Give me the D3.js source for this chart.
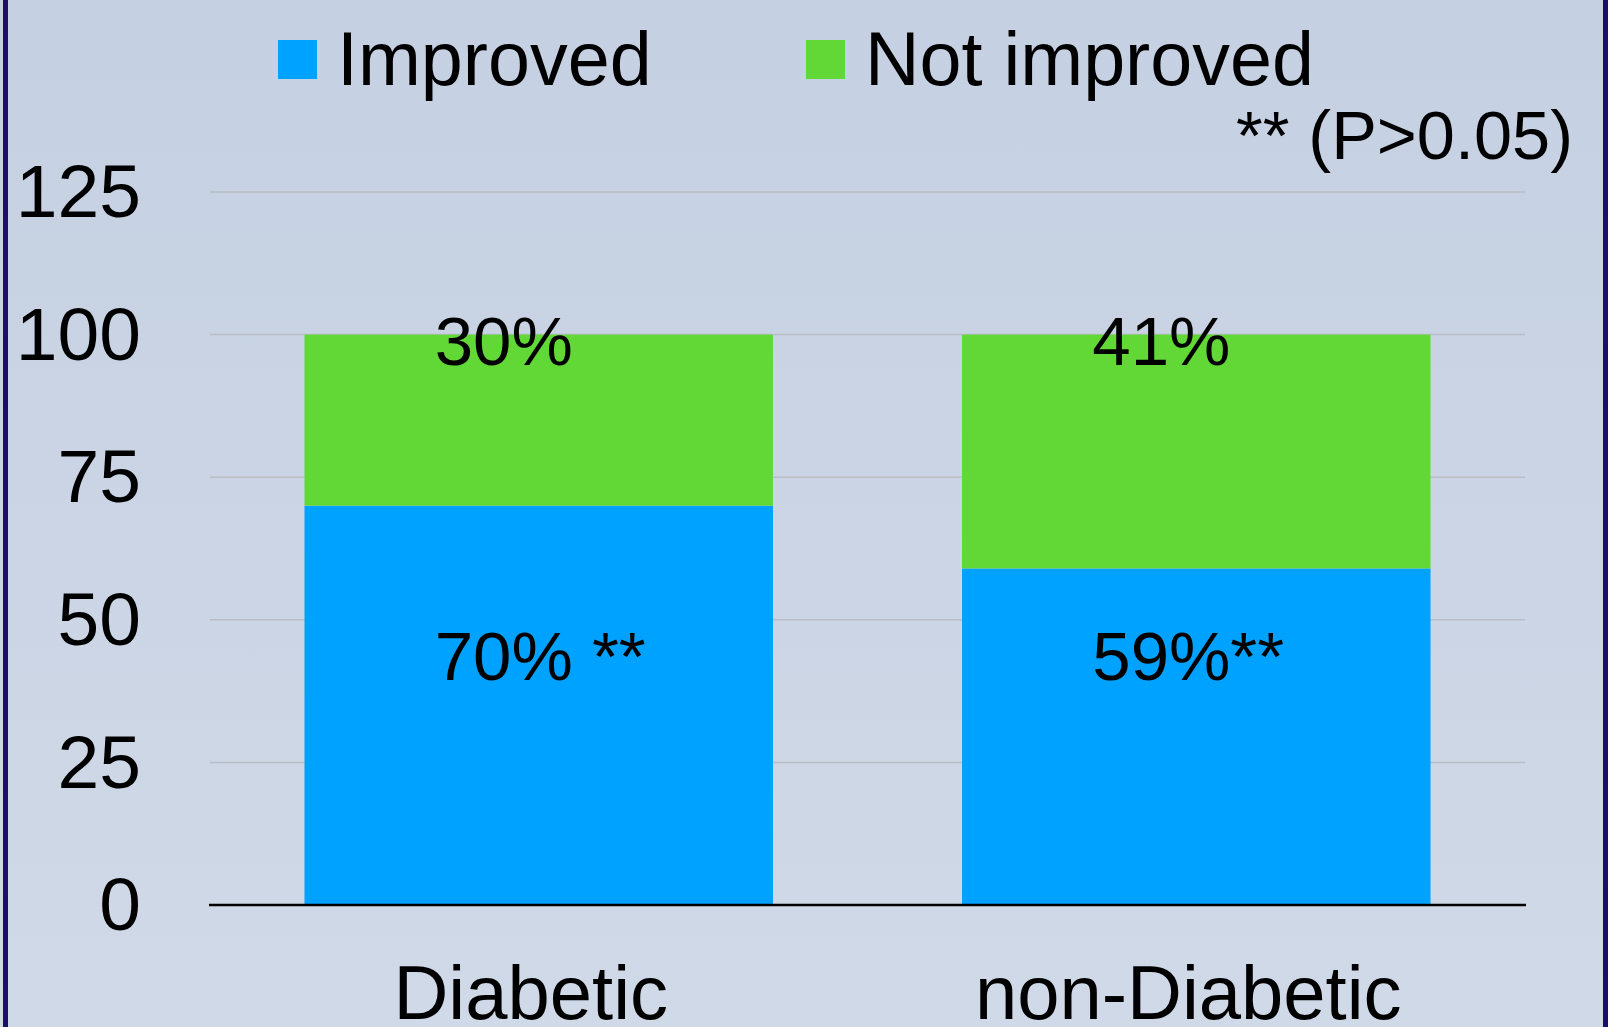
<!DOCTYPE html>
<html>
<head>
<meta charset="utf-8">
<script src="https://cdn.jsdelivr.net/npm/d3@7"></script>
<style>
  html, body { margin: 0; padding: 0; }
  body { width: 1608px; height: 1027px; overflow: hidden; }
  svg { display: block; font-family: "Liberation Sans", Arial, sans-serif; }
</style>
</head>
<body>
<script>
const categories = ["Diabetic", "non-Diabetic"];
const improved = [70, 59];
const notImproved = [30, 41];
const improvedLabels = ["70% **", "59%**"];
const notImprovedLabels = ["30%", "41%"];
const seriesNames = ["Improved", "Not improved"];
const yTicks = [0, 25, 50, 75, 100, 125];
const note = "** (P>0.05)";

const W = 1608, H = 1027;
const colors = { "Improved": "#00a2ff", "Not improved": "#62d837" };

const svg = d3.select("body").append("svg").attr("width", W).attr("height", H);

const defs = svg.append("defs");
const grad = defs.append("linearGradient").attr("id", "bg").attr("x1", 0).attr("y1", 0).attr("x2", 0).attr("y2", 1);
grad.append("stop").attr("offset", "0%").attr("stop-color", "#c5d0e2");
grad.append("stop").attr("offset", "100%").attr("stop-color", "#d0d9e7");
svg.append("rect").attr("width", W).attr("height", H).attr("fill", "url(#bg)");

// side borders
svg.append("rect").attr("x", 3).attr("y", 0).attr("width", 5).attr("height", H).attr("fill", "#1b0f6b");
svg.append("rect").attr("x", 1603).attr("y", 0).attr("width", 5).attr("height", H).attr("fill", "#1b0f6b");

const plot = { left: 210, right: 1525, top: 192, bottom: 905 };

const x = d3.scaleBand().domain(categories).range([plot.left, plot.right])
  .paddingInner(0.2875).paddingOuter(0.1437);
const y = d3.scaleLinear().domain([0, 125]).range([plot.bottom, plot.top]);

// gridlines
svg.append("g").selectAll("line").data(yTicks.filter(d => d > 0)).join("line")
  .attr("x1", plot.left).attr("x2", plot.right)
  .attr("y1", d => y(d)).attr("y2", d => y(d))
  .attr("stroke", "#b9bdc6").attr("stroke-width", 1.5);

// stacked data
const rows = categories.map((c, i) => ({ cat: c, "Improved": improved[i], "Not improved": notImproved[i] }));
const stack = d3.stack().keys(seriesNames)(rows);

svg.append("g").selectAll("g").data(stack).join("g")
  .attr("fill", d => colors[d.key])
  .selectAll("rect").data(d => d).join("rect")
  .attr("x", d => x(d.data.cat))
  .attr("width", x.bandwidth())
  .attr("y", d => y(d[1]))
  .attr("height", d => y(d[0]) - y(d[1]));

// y axis
const yAxis = d3.axisLeft(y).tickValues(yTicks).tickSize(0).tickPadding(0);
const yg = svg.append("g").attr("transform", `translate(141,0)`).call(yAxis);
yg.select(".domain").remove();
yg.selectAll("text").attr("font-size", 75).attr("fill", "#000")
  .attr("font-family", "'Liberation Sans', Arial, sans-serif").attr("dy", "0.33em");

// baseline
svg.append("line").attr("x1", plot.left - 1).attr("x2", plot.right + 1)
  .attr("y1", y(0)).attr("y2", y(0)).attr("stroke", "#000").attr("stroke-width", 2.5);

// x axis
const xAxis = d3.axisBottom(x).tickSize(0).tickPadding(0);
const xg = svg.append("g").attr("transform", `translate(-8,${y(0)})`).call(xAxis);
xg.select(".domain").remove();
xg.selectAll("text").attr("font-size", 76).attr("fill", "#000")
  .attr("font-family", "'Liberation Sans', Arial, sans-serif")
  .attr("dy", null).attr("y", 114);

// value labels
const lbl = svg.append("g").attr("font-size", 69).attr("fill", "#000");
categories.forEach((c, i) => {
  const lx = x(c) + x.bandwidth() / 2 - 104;
  lbl.append("text").attr("x", lx).attr("y", y(improved[i] + notImproved[i]) + 30).text(notImprovedLabels[i]);
  lbl.append("text").attr("x", lx).attr("y", y(39.5)).text(improvedLabels[i]);
});

// legend
const lg = svg.append("g");
const legendX = [278, 806];
seriesNames.forEach((s, i) => {
  lg.append("rect").attr("x", legendX[i]).attr("y", 40).attr("width", 39).attr("height", 39).attr("fill", colors[s]);
  lg.append("text").attr("x", legendX[i] + 59).attr("y", 85).attr("font-size", 75.5).attr("fill", "#000").text(s);
});

// note
svg.append("text").attr("x", 1573).attr("y", 159).attr("text-anchor", "end")
  .attr("font-size", 68.5).attr("fill", "#000").text(note);
</script>
</body>
</html>
